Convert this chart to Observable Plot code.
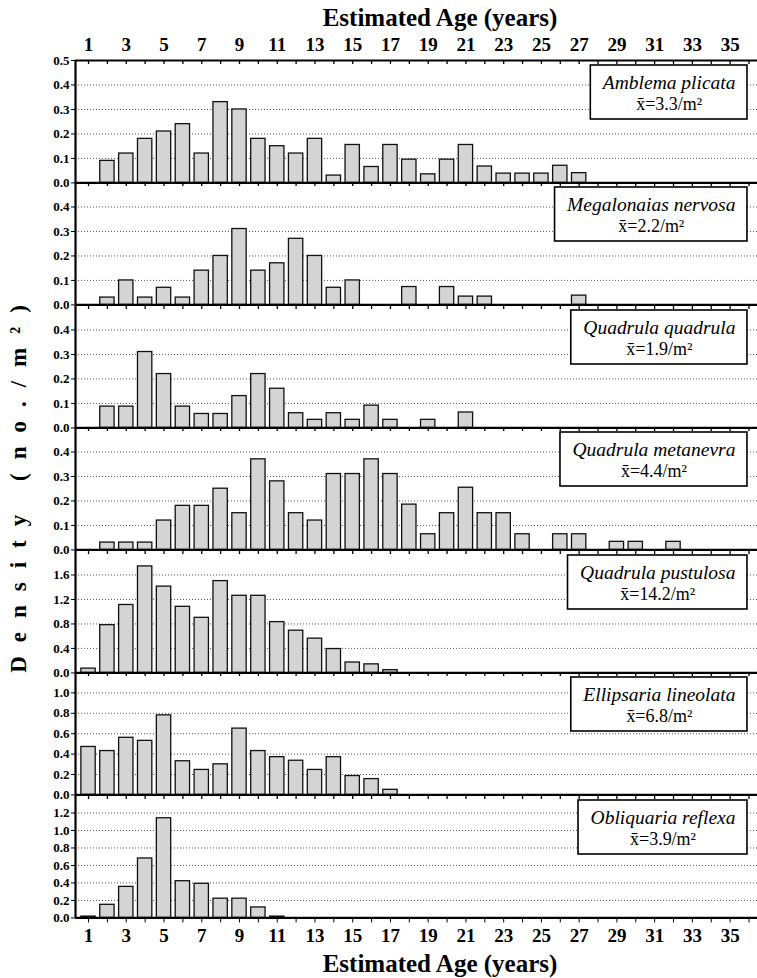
<!DOCTYPE html>
<html>
<head>
<meta charset="utf-8">
<script src="https://cdn.jsdelivr.net/npm/d3@7"></script>
<script src="https://cdn.jsdelivr.net/npm/@observablehq/plot@0.6"></script>
<style>
  html, body { margin: 0; padding: 0; background: #fff; }
  #wrap { position: relative; width: 757px; height: 978px; overflow: hidden;
          font-family: "Liberation Serif", "Times New Roman", serif; color: #000; }
  .xtitle { position: absolute; left: 440px; transform: translateX(-50%); white-space: nowrap;
            font-weight: bold; font-size: 25px; line-height: 1; }
  .ytitle { position: absolute; left: 18px; top: 482px; white-space: nowrap;
            transform: translate(-50%, -50%) rotate(-90deg); font-weight: bold; font-size: 23px;
            letter-spacing: 14px; line-height: 1; }
  .panel { position: absolute; left: 0; }
</style>
</head>
<body>
<div id="wrap"></div>
<script>
// ---------------- data (values indexed by age 1, 2, 3, ...) ----------------
const xAxisTitle = "Estimated Age (years)";
const yAxisTitle = "Density (no./m²)";
const tickYears = d3.range(1, 37);                 // tick marks every year
const tickLabels = d3.range(1, 36, 2);             // labelled odd years 1..35

const speciesNames = ["Amblema plicata", "Megalonaias nervosa", "Quadrula quadrula",
  "Quadrula metanevra", "Quadrula pustulosa", "Ellipsaria lineolata", "Obliquaria reflexa"];
const meanDensity = ["3.3", "2.2", "1.9", "4.4", "14.2", "6.8", "3.9"];
const yMax  = [0.5, 0.5, 0.5, 0.5, 2.0, 1.2, 1.4];
const yStep = [0.1, 0.1, 0.1, 0.1, 0.4, 0.2, 0.2];

const amblemaPlicata = [0, 0.09, 0.12, 0.18, 0.21, 0.24, 0.12, 0.33, 0.30, 0.18, 0.15, 0.12, 0.18,
  0.03, 0.155, 0.065, 0.155, 0.095, 0.035, 0.095, 0.155, 0.067, 0.038, 0.038, 0.038, 0.07, 0.04];
const megalonaiasNervosa = [0, 0.03, 0.10, 0.03, 0.07, 0.03, 0.14, 0.20, 0.31, 0.14, 0.17, 0.27, 0.20,
  0.07, 0.10, 0, 0, 0.073, 0, 0.073, 0.034, 0.034, 0, 0, 0, 0, 0.038];
const quadrulaQuadrula = [0, 0.087, 0.087, 0.31, 0.22, 0.087, 0.057, 0.057, 0.13, 0.22, 0.16, 0.06,
  0.033, 0.06, 0.033, 0.091, 0.033, 0, 0.033, 0, 0.063];
const quadrulaMetanevra = [0, 0.03, 0.03, 0.03, 0.12, 0.18, 0.18, 0.25, 0.15, 0.37, 0.28, 0.15, 0.12,
  0.31, 0.31, 0.37, 0.31, 0.185, 0.064, 0.15, 0.254, 0.15, 0.15, 0.064, 0, 0.064, 0.064, 0,
  0.033, 0.033, 0, 0.033];
const quadrulaPustulosa = [0.07, 0.78, 1.11, 1.74, 1.41, 1.08, 0.90, 1.50, 1.26, 1.26, 0.83, 0.69,
  0.56, 0.39, 0.17, 0.14, 0.045];
const ellipsariaLineolata = [0.47, 0.43, 0.56, 0.53, 0.78, 0.33, 0.245, 0.30, 0.65, 0.43, 0.37, 0.335,
  0.245, 0.37, 0.185, 0.155, 0.05];
const obliquariaReflexa = [0.015, 0.15, 0.355, 0.68, 1.14, 0.42, 0.39, 0.22, 0.22, 0.12, 0.015];

const series = [amblemaPlicata, megalonaiasNervosa, quadrulaQuadrula, quadrulaMetanevra,
  quadrulaPustulosa, ellipsariaLineolata, obliquariaReflexa];

// ---------------- layout ----------------
const W = 757, ML = 75, PANEL_TOP = 60, PANEL_H = 122.43;
const xDomain = [0.31, 36.45];
const BOX_RIGHT = 747, BOX_TOP = 5, BOX_H = 54;
const FONT = "'Liberation Serif', 'Times New Roman', serif";

const wrap = document.getElementById("wrap");

const topTitle = document.createElement("div");
topTitle.className = "xtitle"; topTitle.style.top = "5px"; topTitle.textContent = xAxisTitle;
wrap.appendChild(topTitle);
const botTitle = document.createElement("div");
botTitle.className = "xtitle"; botTitle.style.top = "951px"; botTitle.textContent = xAxisTitle;
wrap.appendChild(botTitle);
const yTitle = document.createElement("div");
yTitle.className = "ytitle"; yTitle.textContent = yAxisTitle;
wrap.appendChild(yTitle);

const ctx = document.createElement("canvas").getContext("2d");
function measure(text, font) { ctx.font = font; return ctx.measureText(text).width; }

series.forEach((vals, i) => {
  const data = vals.map((v, k) => ({age: k + 1, v})).filter(d => d.v > 0);
  const first = i === 0, last = i === series.length - 1;
  const mt = first ? 45 : 0, mb = last ? 40 : 0;
  const ticks = d3.range(0, yMax[i] + 1e-9, yStep[i]).map(v => +v.toFixed(2));
  const labeled = first ? ticks : ticks.filter(t => t < yMax[i] - 1e-9);
  const grid = ticks.filter(t => t > 0 && t < yMax[i] - 1e-9);

  const name = speciesNames[i];
  const meanText = "x\u0304=" + meanDensity[i] + "/m\u00B2";
  const w1 = measure(name, `italic 19.5px ${FONT}`);
  const w2 = measure(meanText, `18px ${FONT}`);
  const boxW = Math.max(w1, w2) + 24;
  const cx = BOX_RIGHT - boxW / 2;

  const marks = [
    Plot.ruleY(grid, {stroke: "#555", strokeDasharray: "1,2", strokeWidth: 1}),
    Plot.rectY(data, {x1: d => d.age - 0.38, x2: d => d.age + 0.38, y: "v",
      fill: "#d4d4d4", stroke: "#111", strokeWidth: 1.3}),
    Plot.ruleX(tickYears, {x: d => d, insetBottom: PANEL_H - 4, stroke: "#000", strokeWidth: 1.3}),
    Plot.ruleY([0], {stroke: "#000", strokeWidth: 2.2}),
    Plot.ruleX([xDomain[0]], {stroke: "#000", strokeWidth: 2.2}),
    Plot.axisY(labeled, {tickSize: 4, tickPadding: 2, tickFormat: d3.format(".1f"),
      fontSize: 13, fontWeight: "bold", label: null}),
    Plot.text([name], {frameAnchor: "top-right", dx: cx - W, dy: BOX_TOP + 17,
      lineAnchor: "middle", textAnchor: "middle", fontSize: 19.5, fontStyle: "italic"}),
    Plot.text([meanText], {frameAnchor: "top-right", dx: cx - W, dy: BOX_TOP + 39,
      lineAnchor: "middle", textAnchor: "middle", fontSize: 18})
  ];
  if (first) {
    marks.push(Plot.ruleY([yMax[i]], {stroke: "#000", strokeWidth: 2.2}));
    marks.push(Plot.axisX(tickLabels, {anchor: "top", tickSize: 0, tickPadding: 9,
      fontSize: 19, fontWeight: "bold", label: null}));
  }
  if (last) {
    marks.push(Plot.axisX(tickYears, {anchor: "bottom", tickSize: 5, tickPadding: 6,
      tickFormat: d => d % 2 ? String(d) : "", fontSize: 19, fontWeight: "bold", label: null}));
  }

  const svg = Plot.plot({
    width: W, height: PANEL_H + mt + mb,
    marginLeft: ML, marginRight: 0, marginTop: mt, marginBottom: mb,
    style: {fontFamily: FONT, background: "transparent", overflow: "visible"},
    x: {domain: xDomain, axis: null, label: null},
    y: {domain: [0, yMax[i]], axis: null, label: null},
    marks
  });
  svg.classList.add("panel");
  svg.style.top = (PANEL_TOP + i * PANEL_H - mt) + "px";
  wrap.appendChild(svg);

  // white legend box behind the two label lines: append, then bring the label text groups to front
  const sel = d3.select(svg);
  sel.append("rect")
    .attr("x", BOX_RIGHT - boxW).attr("y", mt + BOX_TOP)
    .attr("width", boxW).attr("height", BOX_H)
    .attr("fill", "#fff").attr("stroke", "#000").attr("stroke-width", 1.6);
  const textGroups = Array.from(svg.querySelectorAll(":scope > g"))
    .filter(g => Array.from(g.querySelectorAll("text")).some(t =>
      t.textContent === name || t.textContent === meanText));
  textGroups.forEach(g => svg.appendChild(g));
});
</script>
</body>
</html>
